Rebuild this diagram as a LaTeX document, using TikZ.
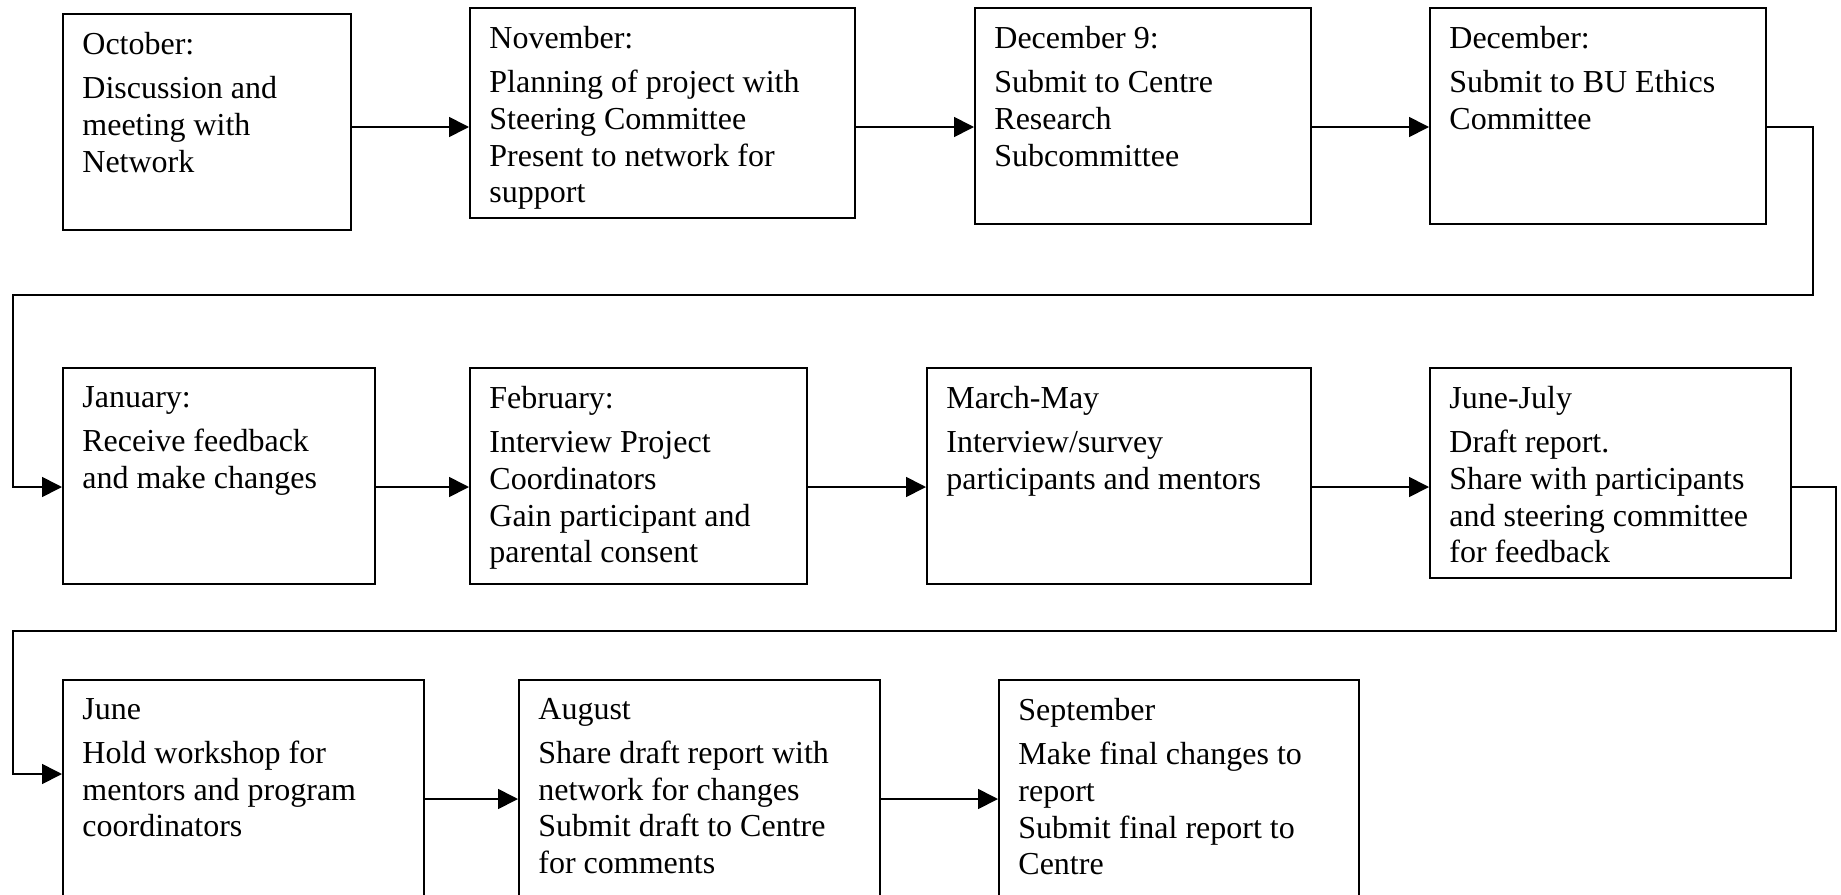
\documentclass[tikz,border=0pt]{standalone}
\usepackage{fontspec}
\setmainfont{Liberation Serif}
\usetikzlibrary{arrows.meta}
\tikzset{
  stage/.style={draw, line width=0.85pt, anchor=north west, inner sep=0pt},
  stagetext/.style={anchor=north west, inner sep=0pt, align=left, font=\fontsize{16}{18.35}\selectfont},
  flow/.style={line width=0.85pt, -{Triangle[length=10pt,width=10pt]}}
}
\begin{document}
\begin{tikzpicture}[x=0.5pt,y=-0.5pt]
\useasboundingbox (0,0) rectangle (1841,894);
\clip (0,0) rectangle (1841,894);
\node[stage, minimum width=144pt, minimum height=108pt] (b1) at (62,13) {};
\node[stage, minimum width=192.5pt, minimum height=105pt] (b2) at (469,7) {};
\node[stage, minimum width=168pt, minimum height=108pt] (b3) at (974,7) {};
\node[stage, minimum width=168pt, minimum height=108pt] (b4) at (1429,7) {};
\node[stage, minimum width=156pt, minimum height=108pt] (b5) at (62,367) {};
\node[stage, minimum width=168.5pt, minimum height=108pt] (b6) at (469,367) {};
\node[stage, minimum width=192pt, minimum height=108pt] (b7) at (926,367) {};
\node[stage, minimum width=180.5pt, minimum height=105pt] (b8) at (1429,367) {};
\node[stage, minimum width=180.5pt, minimum height=130pt] (b9) at (62,679) {};
\node[stage, minimum width=180.5pt, minimum height=130pt] (b10) at (518,679) {};
\node[stage, minimum width=180pt, minimum height=130pt] (b11) at (998,679) {};
\node[stagetext] (t1) at ([shift={(20,19)}]b1.north west) {October:\\[3.65pt]Discussion and\\meeting with\\Network};
\node[stagetext] (t2) at ([shift={(20,19)}]b2.north west) {November:\\[3.65pt]Planning of project with\\Steering Committee\\Present to network for\\support};
\node[stagetext] (t3) at ([shift={(20,19)}]b3.north west) {December 9:\\[3.65pt]Submit to Centre\\Research\\Subcommittee};
\node[stagetext] (t4) at ([shift={(20,19)}]b4.north west) {December:\\[3.65pt]Submit to BU Ethics\\Committee};
\node[stagetext] (t5) at ([shift={(20,19)}]b5.north west) {January:\\[3.65pt]Receive feedback\\and make changes};
\node[stagetext] (t6) at ([shift={(20,19)}]b6.north west) {February:\\[3.65pt]Interview Project\\Coordinators\\Gain participant and\\parental consent};
\node[stagetext] (t7) at ([shift={(20,19)}]b7.north west) {March-May\\[3.65pt]Interview/survey\\participants and mentors};
\node[stagetext] (t8) at ([shift={(20,19)}]b8.north west) {June-July\\[3.65pt]Draft report.\\Share with participants\\and steering committee\\for feedback};
\node[stagetext] (t9) at ([shift={(20,19)}]b9.north west) {June\\[3.65pt]Hold workshop for\\mentors and program\\coordinators};
\node[stagetext] (t10) at ([shift={(20,19)}]b10.north west) {August\\[3.65pt]Share draft report with\\network for changes\\Submit draft to Centre\\for comments};
\node[stagetext] (t11) at ([shift={(20,19)}]b11.north west) {September\\[3.65pt]Make final changes to\\report\\Submit final report to\\Centre};
\coordinate (r1) at (0,127);
\coordinate (r2) at (0,487);
\coordinate (r3) at (0,799);
\coordinate (r3in) at (0,774);
\coordinate (w1r) at (1813,295);
\coordinate (w1l) at (13,295);
\coordinate (w2r) at (1836,631);
\coordinate (w2l) at (13,631);
\draw[flow] (b1.east |- r1) -- (b2.west |- r1);
\draw[flow] (b2.east |- r1) -- (b3.west |- r1);
\draw[flow] (b3.east |- r1) -- (b4.west |- r1);
\draw[flow] (b4.east |- r1) -| (w1r) -- (w1l) |- (b5.west |- r2);
\draw[flow] (b5.east |- r2) -- (b6.west |- r2);
\draw[flow] (b6.east |- r2) -- (b7.west |- r2);
\draw[flow] (b7.east |- r2) -- (b8.west |- r2);
\draw[flow] (b8.east |- r2) -| (w2r) -- (w2l) |- (b9.west |- r3in);
\draw[flow] (b9.east |- r3) -- (b10.west |- r3);
\draw[flow] (b10.east |- r3) -- (b11.west |- r3);
\end{tikzpicture}
\end{document}
